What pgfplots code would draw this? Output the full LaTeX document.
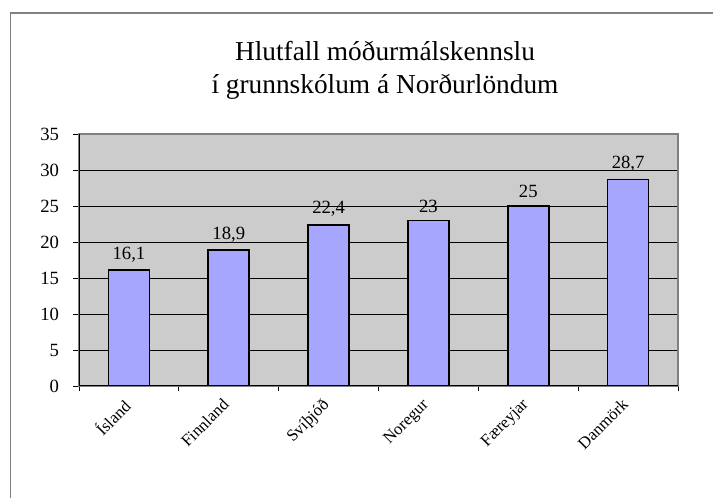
\documentclass[border=0pt]{standalone}
\usepackage{pgfplots}
\pgfplotsset{compat=1.18}
\usepackage{pgfplotstable}
\usepackage{fontspec}
\setmainfont{Liberation Serif}
\definecolor{plotbg}{HTML}{CCCCCC}
\definecolor{barfill}{HTML}{A6A6FF}
\definecolor{framegray}{HTML}{808080}
\pgfplotstableread{
x y lab
0 16.1 16,1
1 18.9 18,9
2 22.4 22,4
3 23   23
4 25   25
5 28.7 28,7
}\datatable
\begin{document}
\begin{tikzpicture}
\useasboundingbox (0,0) rectangle (534.75pt,373.5pt);
\begin{axis}[
  at={(59.25pt,84pt)}, anchor=south west,
  scale only axis, width=449.25pt, height=189pt,
  xmin=-0.5, xmax=5.5, ymin=0, ymax=35,
  ytick={0,5,...,35},
  xtick={0,...,5},
  xticklabels={Ísland,Finnland,Svíþjóð,Noregur,Færeyjar,Danmörk},
  minor xtick={-0.5,0.5,...,5.5},
  major x tick style={draw=none},
  minor x tick style={black, line width=0.6pt},
  minor tick length=4pt,
  major tick length=4.5pt,
  tick align=outside, tick pos=left,
  y tick style={black, line width=0.6pt},
  ymajorgrids, grid style={black, line width=0.5pt},
  axis background/.style={fill=plotbg},
  axis line style={framegray, line width=1.2pt},
  /pgf/number format/assume math mode=true,
  yticklabel style={font=\fontsize{14}{16}\selectfont, xshift=-7pt},
  xticklabel style={font=\fontsize{12.5}{14}\selectfont, rotate=45, anchor=north east, inner sep=1pt, yshift=2pt, xshift=-5.6pt},
  nodes near coords,
  point meta=explicit symbolic,
  nodes near coords style={font=\fontsize{14}{16}\selectfont, anchor=south, yshift=2pt},
]
\addplot[ybar, bar width=0.41, fill=barfill, draw=black, line width=1.2pt] table[x=x, y=y, meta=lab] {\datatable};
\draw[black, line width=0.8pt] (rel axis cs:0,1) -- (rel axis cs:0,0) -- (rel axis cs:1,0);
\end{axis}
\draw[framegray, line width=1.2pt] (7.9pt,-2pt) -- (7.9pt,363.75pt) -- (540pt,363.75pt);
\node[align=center, font=\fontsize{20.5}{25}\selectfont] at (288.75pt,321pt) {Hlutfall móðurmálskennslu\\í grunnskólum á Norðurlöndum};
\end{tikzpicture}
\end{document}
